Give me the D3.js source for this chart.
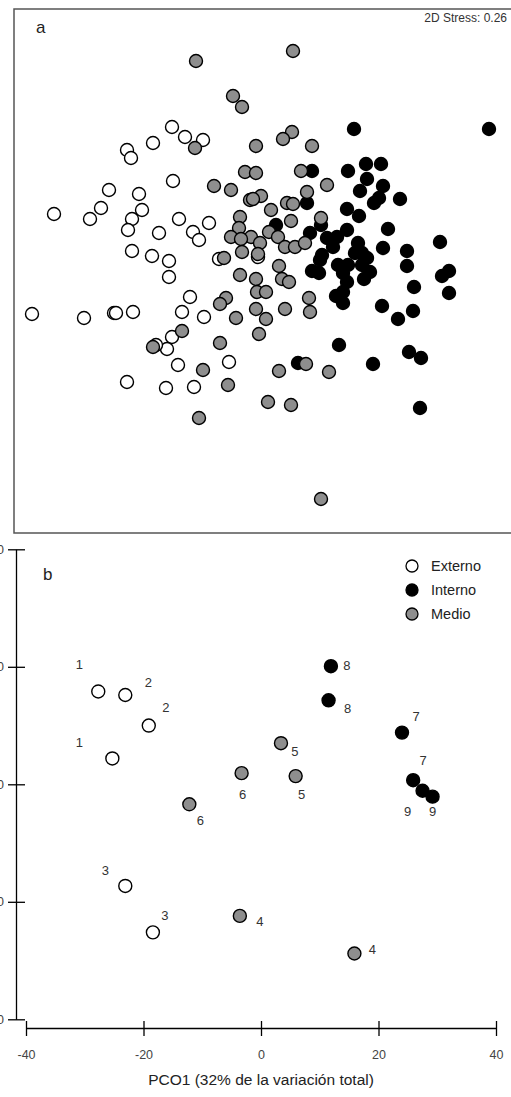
<!DOCTYPE html>
<html>
<head>
<meta charset="utf-8">
<script type="text/javascript" src="https://d3js.org/d3.v7.min.js"></script>
<style>
  body { margin: 0; background: #fff; }
  svg { display: block; font-family: "Liberation Sans", Arial, sans-serif; }
</style>
</head>
<body>
<div id="chart"></div>
<script type="text/javascript">
// ---- panel a : nMDS scores (MDS1, MDS2) per zone ----
const mdsExterno = [
  [-0.90,1.45],[-0.77,1.35],[-0.59,1.32],[-1.09,1.29],[-1.35,1.22],[-1.31,1.14],[-0.89,0.91],
  [-1.53,0.82],[-1.23,0.78],[-2.08,0.58],[-1.61,0.64],[-1.72,0.53],[-1.20,0.62],[-1.30,0.53],
  [-1.34,0.42],[-0.83,0.53],[-0.53,0.49],[-1.03,0.39],[-0.69,0.40],[-0.63,0.32],[-1.30,0.21],
  [-1.10,0.16],[-0.93,0.11],[-0.43,0.13],[-0.04,0.15],[-0.93,-0.05],[-0.72,-0.25],[-2.30,-0.42],
  [-1.78,-0.46],[-1.48,-0.41],[-1.46,-0.41],[-1.29,-0.40],[-0.80,-0.40],[-0.58,-0.45],[-0.90,-0.65],
  [-0.95,-0.77],[-1.06,-0.73],[-0.84,-0.93],[-0.33,-0.90],[-1.35,-1.10],[-0.96,-1.16],[-0.68,-1.15]
];
const mdsInterno = [
  [0.92,1.43],[2.27,1.43],[1.04,1.08],[1.19,1.08],[0.50,1.01],[0.86,1.01],[1.05,0.93],[1.21,0.86],
  [0.98,0.81],[1.17,0.74],[1.12,0.69],[1.38,0.73],[0.45,0.69],[0.85,0.63],[0.97,0.56],[0.59,0.47],
  [0.14,0.47],[1.26,0.43],[0.48,0.39],[0.65,0.34],[0.75,0.35],[0.85,0.42],[1.78,0.30],[0.71,0.25],
  [0.96,0.29],[1.21,0.24],[1.45,0.21],[0.60,0.17],[0.58,0.12],[0.76,0.07],[0.86,0.07],[0.93,0.19],
  [1.00,0.19],[1.05,0.14],[1.00,0.07],[1.08,0.00],[1.45,0.06],[0.50,0.01],[0.57,-0.01],[0.81,-0.01],
  [0.85,-0.10],[1.02,-0.07],[1.80,-0.04],[1.87,0.01],[1.87,-0.21],[1.52,-0.15],[0.74,-0.24],[0.81,-0.20],
  [0.81,-0.31],[1.20,-0.34],[1.36,-0.47],[1.51,-0.39],[0.77,-0.73],[1.47,-0.80],[1.59,-0.86],[1.11,-0.92],
  [0.36,-0.91],[1.58,-1.36]
];
const mdsMedio = [
  [-0.66,2.11],[0.31,2.21],[-0.29,1.76],[-0.20,1.65],[0.30,1.40],[0.21,1.33],[-0.67,1.24],[-0.06,1.26],
  [0.50,1.26],[-0.17,1.00],[-0.06,0.99],[0.39,1.01],[-0.48,0.86],[-0.31,0.82],[0.65,0.87],[0.45,0.80],
  [-0.01,0.76],[-0.12,0.72],[-0.09,0.73],[0.25,0.69],[0.31,0.68],[0.09,0.62],[-0.22,0.55],[-0.23,0.44],
  [0.29,0.51],[0.59,0.54],[0.07,0.40],[0.16,0.35],[-0.31,0.35],[-0.11,0.35],[-0.02,0.29],[0.23,0.25],
  [0.33,0.25],[0.43,0.29],[-0.21,0.33],[-0.20,0.20],[-0.38,0.14],[-0.04,0.18],[0.17,0.06],[-0.22,-0.03],
  [-0.06,-0.07],[0.20,-0.07],[0.27,-0.10],[-0.05,-0.20],[0.04,-0.20],[-0.36,-0.26],[-0.42,-0.32],[-0.26,-0.46],
  [-0.06,-0.37],[0.04,-0.47],[0.23,-0.37],[0.47,-0.26],[0.48,-0.40],[-0.80,-0.59],[-1.09,-0.75],[-0.42,-0.71],
  [-0.03,-0.62],[-0.59,-0.98],[0.17,-0.99],[0.44,-0.92],[0.67,-1.00],[-0.34,-1.13],[-0.63,-1.46],[0.06,-1.30],
  [0.29,-1.33],[0.59,-2.27]
];
const stress = 0.26;

// ---- panel b : PCO centroids ----
const pcoZone = ["Externo","Externo","Externo","Externo","Externo","Externo",
                 "Medio","Medio","Medio","Medio","Medio","Medio",
                 "Interno","Interno","Interno","Interno","Interno","Interno"];
const pcoSite = ["1","2","2","1","3","3","6","6","4","4","5","5","8","8","7","7","9","9"];
const pco1 = [-27.7,-23.1,-19.1,-25.3,-23.1,-18.4,-12.2,-3.3,-3.6,15.9,3.4,5.9,11.9,11.5,24.0,25.9,27.5,29.2];
const pco2 = [15.8,15.2,10.0,4.4,-17.3,-25.2,-3.4,1.9,-22.4,-28.8,7.0,1.4,20.1,14.3,8.8,0.7,-1.1,-2.1];
const xTicks = [-40,-20,0,20,40];
const yTicks = [-40,-20,0,20,40];
const zones = ["Externo","Interno","Medio"];
const xTitle = "PCO1 (32% de la variación total)";

// layout only: where each site number sits relative to its point (px)
const siteNudge = [[-19,-27],[23,-13],[17,-18],[-33,-16],[-20,-15],[12,-17],[11,16],[1,21],[20,6],
                   [18,-4],[14,8],[6,18],[16,-1],[19,8],[14,-16],[10,-20],[-15,21],[0,15]];
const fillOf = {Externo: "#ffffff", Interno: "#000000", Medio: "#8e8e8e"};

const W = 511, H = 1097, R = 6.5;
const svg = d3.select("#chart").append("svg").attr("width", W).attr("height", H);

// ================= panel a =================
const ax = d3.scaleLinear().domain([-2.48, 2.49]).range([14, 511]);
const ay = d3.scaleLinear().domain([-2.61, 2.63]).range([533, 9]);

svg.append("rect")
  .attr("x", 14).attr("y", 9).attr("width", 498).attr("height", 524)
  .attr("fill", "none").attr("stroke", "#555").attr("stroke-width", 1.5);

const pa = svg.append("g");
[["Externo", mdsExterno], ["Interno", mdsInterno], ["Medio", mdsMedio]].forEach(([z, pts]) => {
  pa.selectAll(null).data(pts).join("circle")
    .attr("cx", d => ax(d[0])).attr("cy", d => ay(d[1])).attr("r", R)
    .attr("fill", fillOf[z]).attr("stroke", "#000").attr("stroke-width", 1.4);
});

svg.append("text").attr("x", 36).attr("y", 33).attr("font-size", 17).attr("fill", "#222").text("a");
svg.append("text").attr("x", 507).attr("y", 22).attr("text-anchor", "end")
  .attr("font-size", 12).attr("fill", "#333").text("2D Stress: " + stress.toFixed(2));

// ================= panel b =================
const bx = d3.scaleLinear().domain([-40, 40]).range([26, 496]);
const by = d3.scaleLinear().domain([-40, 40]).range([1019.3, 549.3]);

const xAxis = svg.append("g").attr("transform", "translate(0,1028)")
  .call(d3.axisBottom(bx).tickValues(xTicks).tickSizeOuter(0).tickSizeInner(8).tickPadding(14));
xAxis.select(".domain").attr("stroke-width", 1.3);
xAxis.selectAll(".tick line").attr("y1", -7).attr("y2", 8).attr("stroke-width", 1.3);
xAxis.selectAll(".tick text").attr("font-size", 12.5).attr("fill", "#444")
  .attr("font-family", "Liberation Sans, Arial, sans-serif").text(d => d);

const yAxis = svg.append("g").attr("transform", "translate(16,0)")
  .call(d3.axisLeft(by).tickValues(yTicks).tickSizeOuter(0).tickSizeInner(8).tickPadding(4));
yAxis.select(".domain").attr("stroke-width", 1.3);
yAxis.selectAll(".tick line").attr("x1", -8).attr("x2", 9).attr("stroke-width", 1.3);
yAxis.selectAll(".tick text").attr("font-size", 12.5).attr("fill", "#444")
  .attr("font-family", "Liberation Sans, Arial, sans-serif").text(d => d);

svg.append("text").attr("x", 261).attr("y", 1085).attr("text-anchor", "middle")
  .attr("font-size", 15.5).attr("fill", "#222").text(xTitle);

svg.append("text").attr("x", 43).attr("y", 580).attr("font-size", 17).attr("fill", "#222").text("b");

const idx = d3.range(pco1.length);
svg.append("g").selectAll("circle").data(idx).join("circle")
  .attr("cx", i => bx(pco1[i])).attr("cy", i => by(pco2[i])).attr("r", R)
  .attr("fill", i => fillOf[pcoZone[i]]).attr("stroke", "#000").attr("stroke-width", 1.4);

svg.append("g").selectAll("text").data(idx).join("text")
  .attr("x", i => bx(pco1[i]) + siteNudge[i][0])
  .attr("y", i => by(pco2[i]) + siteNudge[i][1])
  .attr("text-anchor", "middle").attr("dominant-baseline", "central")
  .attr("font-size", 13).attr("fill", "#333")
  .text(i => pcoSite[i]);

// legend
const leg = svg.append("g").attr("transform", "translate(412,566)");
zones.forEach((z, i) => {
  leg.append("circle").attr("cx", 0).attr("cy", i * 24).attr("r", 6)
    .attr("fill", fillOf[z]).attr("stroke", "#000").attr("stroke-width", 1.3);
  leg.append("text").attr("x", 19).attr("y", i * 24).attr("dominant-baseline", "central")
    .attr("font-size", 14.5).attr("fill", "#222").text(z);
});
</script>
</body>
</html>
